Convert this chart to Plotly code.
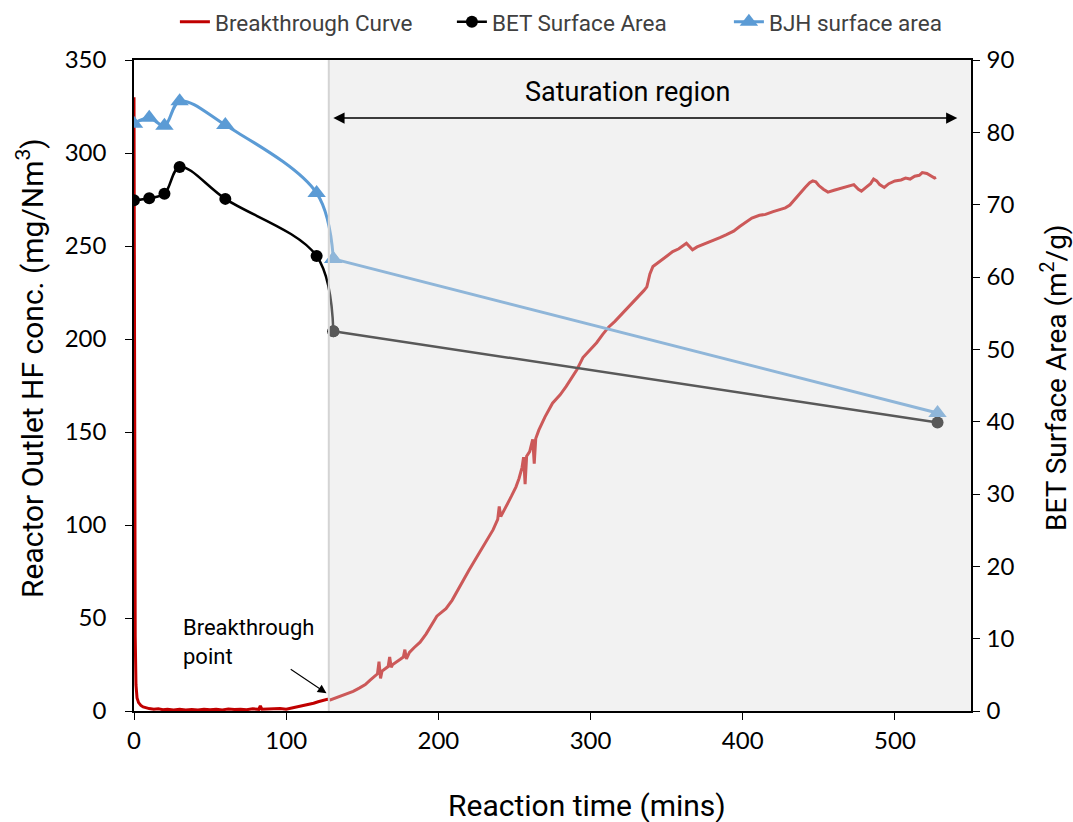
import plotly.graph_objects as go

# ---------------- data ----------------
bt_time = [0, 0.4, 0.8, 1.3, 2, 3, 4.5, 6, 8, 10, 13, 16, 19, 22, 26, 30, 34, 38, 42, 46,
           50, 54, 58, 62, 66, 70, 74, 78, 82, 83, 84, 88, 92, 96, 100, 103, 106, 109, 112, 115,
           118, 121, 124, 127,
           129, 132, 136, 140, 144, 148, 152, 155, 158, 160, 161, 162, 163, 165, 167, 168, 169, 170,
           172, 175, 177, 178, 179, 181, 184, 188, 192, 196, 199, 202, 205, 209, 213, 216, 220, 224,
           229, 233, 236, 239, 240, 241, 244, 248, 251, 253,
           255, 256, 257, 258, 260, 262, 263, 264, 266, 270, 275, 280, 284, 288, 291, 295, 300, 304,
           308, 312, 316, 320, 324, 328, 332, 335, 337, 338, 339, 341, 344, 347, 350, 354, 358, 363,
           365, 367, 370, 373, 376, 380, 385, 389, 394, 398, 402, 406, 411, 415, 420, 424, 428, 431,
           435, 438, 441, 444, 446, 448, 450, 453, 456, 460, 464, 468, 471, 473, 476, 478, 481, 484,
           486, 488, 490, 493, 496, 500, 504, 507, 510, 513, 516, 518, 521, 523, 526, 527]
bt_conc = [330, 150, 40, 14, 7, 4.5, 3, 2.2, 1.6, 1.3, 0.9, 1.2, 0.7, 1.0, 0.6, 0.9, 0.5, 0.8, 0.6, 1.0,
           0.7, 0.9, 0.6, 1.1, 0.8, 1.0, 0.7, 1.2, 0.9, 2.8, 1.0, 1.1, 0.8, 1.3, 1.0, 1.5, 1.9, 2.6, 3.2, 3.8,
           4.2, 5.0, 5.6, 6.3,
           6.0, 6.9, 8.0, 9.4, 10.6, 12.3, 14.2, 16.5, 18.4, 20.0, 26.5, 17.5, 21.5, 22.8, 23.9, 29.0, 23.5, 25.0,
           26.3, 27.8, 29.0, 33.0, 28.0, 31.5, 34.0, 37.0, 41.5, 47.0, 51.0, 53.0, 55.0, 59.5, 65.5, 70.0, 75.5, 81.0,
           88.0, 93.5, 97.5, 103.0, 110.0, 104.5, 109.0, 115.5, 120.5, 125.0,
           131.0, 136.5, 122.0, 137.0, 139.5, 146.0, 133.0, 146.5, 151.0, 158.0, 165.5, 170.0, 174.5, 179.5, 183.5, 190.0, 194.5, 198.0,
           202.5, 206.5, 209.5, 213.0, 216.0, 219.5, 223.0, 226.0, 228.0, 231.0, 235.0, 239.0, 241.0, 242.5, 244.5, 247.0, 248.5, 251.5,
           249.5, 248.0, 249.5, 250.5, 251.5, 252.5, 254.5, 256.0, 258.0, 260.5, 263.0, 265.0, 266.5, 267.0, 268.5, 269.5, 270.5, 272.0,
           276.0, 279.0, 281.5, 284.0, 285.0, 284.5, 282.5, 280.5, 279.0, 280.0, 281.0, 281.8, 282.5, 283.0, 280.5, 279.5, 281.5, 283.5,
           286.0, 285.0, 283.0, 281.5, 283.5, 285.0, 285.5, 286.5, 286.0, 287.5, 288.0, 289.5, 289.0, 288.0, 286.5, 287.0]

sa_time = [0, 10, 20, 30, 60, 120, 131, 528]
bet_area = [70.6, 70.9, 71.5, 75.2, 70.8, 62.9, 52.5, 39.9]
bjh_area = [81.2, 82.0, 80.9, 84.3, 81.0, 71.6, 62.5, 41.2]

x_ticks = [0, 100, 200, 300, 400, 500]
y1_ticks = [0, 50, 100, 150, 200, 250, 300, 350]
y2_ticks = [0, 10, 20, 30, 40, 50, 60, 70, 80, 90]

breakthrough_time = 128
saturation_end = 550
n_early = 7  # samples up to the breakthrough (drawn smoothed)

TXT = "Roboto, sans-serif"
NUM = "Lato, DejaVu Sans, sans-serif"

fig = go.Figure()
fig.add_trace(go.Scatter(x=bt_time, y=bt_conc, mode="lines", name="Breakthrough Curve",
                         line=dict(color="#C00000", width=3)))
# BET: smoothed part + long tail segment
fig.add_trace(go.Scatter(x=sa_time[:n_early], y=bet_area[:n_early], mode="lines+markers",
                         name="BET Surface Area", yaxis="y2", legendgroup="bet",
                         line=dict(color="#000000", width=2.5, shape="spline", smoothing=1),
                         marker=dict(symbol="circle", size=12, color="#000000")))
fig.add_trace(go.Scatter(x=sa_time[n_early - 1:], y=bet_area[n_early - 1:], mode="lines+markers",
                         showlegend=False, yaxis="y2", legendgroup="bet",
                         line=dict(color="#000000", width=2.5),
                         marker=dict(symbol="circle", size=12, color="#000000")))
# BJH
fig.add_trace(go.Scatter(x=sa_time[:n_early], y=bjh_area[:n_early], mode="lines+markers",
                         name="BJH surface area", yaxis="y2", legendgroup="bjh",
                         line=dict(color="#5B9BD5", width=3, shape="spline", smoothing=1),
                         marker=dict(symbol="triangle-up", size=16, color="#5B9BD5")))
fig.add_trace(go.Scatter(x=sa_time[n_early - 1:], y=bjh_area[n_early - 1:], mode="lines+markers",
                         showlegend=False, yaxis="y2", legendgroup="bjh",
                         line=dict(color="#5B9BD5", width=3),
                         marker=dict(symbol="triangle-up", size=16, color="#5B9BD5")))

# saturation shaded region
fig.add_shape(type="rect", xref="x", yref="paper", x0=breakthrough_time, x1=saturation_end, y0=0, y1=1,
              fillcolor="rgba(222,222,222,0.4)", line=dict(width=0), layer="above")
fig.add_shape(type="line", xref="x", yref="paper", x0=breakthrough_time, x1=breakthrough_time, y0=0, y1=1,
              line=dict(color="#d4d4d4", width=2), layer="above")

fig.add_annotation(x=541, y=318.8, ax=130, ay=318.8, xref="x", yref="y", axref="x", ayref="y",
                   text="", showarrow=True, arrowhead=2, arrowside="end+start", arrowsize=1.4,
                   arrowwidth=1.6, arrowcolor="#000000")
fig.add_annotation(x=324, y=333, xref="x", yref="y", text="Saturation region", showarrow=False,
                   font=dict(family=TXT, size=27, color="#000000"))
fig.add_annotation(x=126.5, y=9.5, ax=102, ay=23, xref="x", yref="y", axref="x", ayref="y",
                   text="", showarrow=True, arrowhead=2, arrowsize=1.6, arrowwidth=1.1,
                   arrowcolor="#000000")
fig.add_annotation(x=31, y=37, xref="x", yref="y", text="Breakthrough<br>point", showarrow=False,
                   xanchor="left", align="left", font=dict(family=TXT, size=22, color="#000000"))

# axis titles
fig.add_annotation(x=(587 - 134) / 837, y=-(805 - 711) / 651, xref="paper", yref="paper",
                   text="Reaction time (mins)", showarrow=False, yanchor="middle",
                   font=dict(family=TXT, size=30, color="#000"))
fig.add_annotation(x=-(134 - 30) / 837, y=(711 - 368) / 651, xref="paper", yref="paper",
                   text="Reactor Outlet HF conc. (mg/Nm<sup>3</sup>)", showarrow=False, textangle=-90,
                   xanchor="center", yanchor="middle", font=dict(family=TXT, size=30, color="#000"))
fig.add_annotation(x=1 + (1054 - 971) / 837, y=(711 - 378) / 651, xref="paper", yref="paper",
                   text="BET Surface Area (m<sup>2</sup>/g)", showarrow=False, textangle=-90,
                   xanchor="center", yanchor="middle", font=dict(family=TXT, size=28, color="#000"))

fig.update_layout(
    width=1073, height=822,
    margin=dict(l=134, r=102, t=60, b=111, autoexpand=False),
    paper_bgcolor="white", plot_bgcolor="white",
    showlegend=True,
    legend=dict(orientation="h", x=0.163, xref="container", xanchor="left",
                y=0.973, yref="container", yanchor="middle", entrywidth=232,
                font=dict(family=TXT, size=22.5, color="#404040"), bgcolor="rgba(0,0,0,0)"),
    xaxis=dict(range=[0, 550], tickvals=x_ticks, ticks="outside", ticklen=7, tickcolor="#000",
               showline=True, linecolor="#000", linewidth=1.5, mirror=True, showgrid=False, zeroline=False,
               tickfont=dict(family=NUM, size=24, color="#000"), ticklabelstandoff=0),
    yaxis=dict(range=[0, 350], tickvals=y1_ticks, ticks="outside", ticklen=7, tickcolor="#000",
               showline=True, linecolor="#000", linewidth=1.5, showgrid=False, zeroline=False,
               tickfont=dict(family=NUM, size=24, color="#000"), ticklabelstandoff=14),
    yaxis2=dict(range=[0, 90], tickvals=y2_ticks, overlaying="y", side="right", ticks="outside", ticklen=7,
                tickcolor="#000", showline=True, linecolor="#000", linewidth=1.5, showgrid=False, zeroline=False,
                tickfont=dict(family=NUM, size=24, color="#000"), ticklabelstandoff=2),
)

fig.write_html("out.html")
